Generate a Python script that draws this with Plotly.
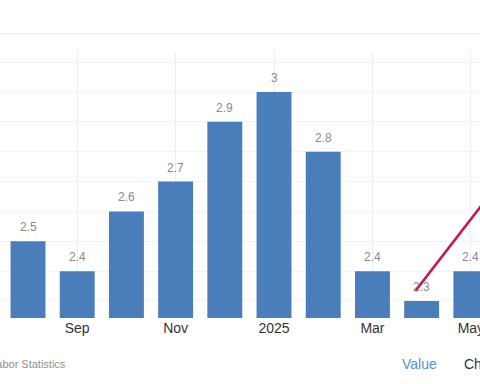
import plotly.graph_objects as go

months = ["Aug", "Sep", "Oct", "Nov", "Dec", "Jan", "Feb", "Mar", "Apr", "May"]
values = [2.5, 2.4, 2.6, 2.7, 2.9, 3.0, 2.8, 2.4, 2.3, 2.4]
tick_idx = [1, 3, 5, 7, 9]
tick_labels = ["Sep", "Nov", "2025", "Mar", "May"]
trend_x = [7.87, 9.6]
trend_y = [2.333, 2.702]

x_idx = list(range(len(months)))
FONT = "Liberation Sans, Arial, sans-serif"

fig = go.Figure()
fig.add_trace(go.Bar(
    x=x_idx, y=values, width=0.71,
    marker=dict(color="#4a7ebb", line=dict(width=0)),
    hoverinfo="skip", showlegend=False,
))
fig.add_trace(go.Scatter(
    x=trend_x, y=trend_y, mode="lines",
    line=dict(color="#c01a5c", width=2.5),
    hoverinfo="skip", showlegend=False,
))
for xi, v in zip(x_idx, values):
    fig.add_annotation(
        x=xi, y=v, text=f"{v:g}", showarrow=False,
        yanchor="bottom", yshift=5,
        font=dict(family=FONT, size=12, color="#8a8a8a"),
    )

fig.add_annotation(
    xref="paper", yref="paper", x=68/480, y=-0.173,
    xanchor="right", yanchor="middle", showarrow=False,
    text="Source: U.S. Bureau of Labor Statistics",
    font=dict(family=FONT, size=11, color="#909090"),
)
fig.add_annotation(
    xref="paper", yref="paper", x=400/480, y=-0.173,
    xanchor="left", yanchor="middle", showarrow=False,
    text="Value", font=dict(family=FONT, size=14, color="#5b8fc7"),
)
fig.add_annotation(
    xref="paper", yref="paper", x=462/480, y=-0.173,
    xanchor="left", yanchor="middle", showarrow=False,
    text="Change", font=dict(family=FONT, size=14, color="#333333"),
)
fig.add_shape(
    type="line", xref="paper", yref="paper",
    x0=0, x1=1, y0=1.068, y1=1.068,
    line=dict(color="#eeeeee", width=1.5),
)

fig.update_layout(
    width=480, height=384,
    margin=dict(l=0, r=0, t=52, b=66, pad=0, autoexpand=False),
    paper_bgcolor="white", plot_bgcolor="white",
    font=dict(family=FONT),
    xaxis=dict(
        range=[-0.569, 9.186], automargin=False,
        tickmode="array", tickvals=tick_idx, ticktext=tick_labels,
        tickfont=dict(family=FONT, size=14, color="#333333"),
        ticklabeloverflow="allow",
        showgrid=True, gridcolor="#ececec", gridwidth=1,
        zeroline=False, showline=False, ticks="",
    ),
    yaxis=dict(
        range=[2.243, 3.134], automargin=False,
        tick0=0, dtick=0.1,
        showticklabels=False,
        showgrid=True, gridcolor="#f2f2f2", gridwidth=1,
        zeroline=False, showline=False, ticks="",
    ),
)

fig.write_html(
    "out.html",
    config={"displayModeBar": False},
    post_script="document.body.style.margin='0';document.body.style.overflow='hidden';",
)
